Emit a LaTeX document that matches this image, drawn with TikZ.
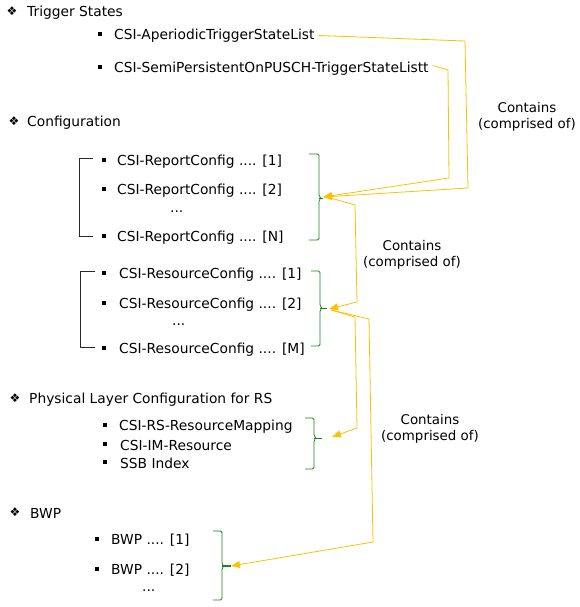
\documentclass[tikz,border=0pt]{standalone}
\usepackage{fontspec}
\setmainfont{DejaVu Sans}
\usetikzlibrary{arrows.meta,calc}
\definecolor{org}{RGB}{255,192,0}
\definecolor{grn}{RGB}{20,135,20}
\definecolor{blk}{RGB}{40,40,40}
\begin{document}
\begin{tikzpicture}[x=1pt,y=-1pt,
  font=\fontsize{13.8}{16}\selectfont,
  txt/.style={anchor=west,inner sep=0pt,yshift=-1.5pt},
  head/.style={anchor=west,inner sep=0pt,yshift=-1.5pt},
  dia/.style={inner sep=0pt,font=\fontsize{12}{12}\selectfont},
  bul/.style={fill=black,minimum size=4pt,inner sep=0pt},
  lbl/.style={align=center,inner sep=0pt,yshift=-1pt,font=\fontsize{13.4}{16}\selectfont},
  gbr/.style={draw=grn,line width=0.8pt,rounded corners=1.5pt},
  kbr/.style={draw=blk,line width=0.8pt},
  con/.style={draw=org,line width=0.8pt,-{Triangle[length=9pt,width=7pt]}},
  conp/.style={draw=org,line width=0.8pt}]
\useasboundingbox (0,0) rectangle (579,607);

% Trigger states
\node[dia] (d1) at (12,11) {❖};
\node[head] (h1) at (27,11) {Trigger States};
\node[bul] (b11) at (100,34) {};
\node[txt] (t11) at (114,34) {CSI-AperiodicTriggerStateList};
\node[bul] (b12) at (100,67) {};
\node[txt] (t12) at (114,67) {CSI-SemiPersistentOnPUSCH-TriggerStateListt};

% Configuration
\node[dia] (d2) at (14,121) {❖};
\node[head] (h2) at (27,121) {Configuration};
\node[bul] (b21) at (104,160) {};
\node[txt] (t21) at (117,160) {CSI-ReportConfig .... [1]};
\node[bul] (b22) at (104,189) {};
\node[txt] (t22) at (117,189) {CSI-ReportConfig .... [2]};
\node[txt] (t2d) at (170,210) {...};
\node[bul] (b23) at (104,236) {};
\node[txt] (t23) at (117,236) {CSI-ReportConfig .... [N]};

\node[bul] (b31) at (104,273) {};
\node[txt] (t31) at (119,273) {CSI-ResourceConfig .... [1]};
\node[bul] (b32) at (104,303) {};
\node[txt] (t32) at (119,303) {CSI-ResourceConfig .... [2]};
\node[txt] (t3d) at (172,323) {...};
\node[bul] (b33) at (104,348) {};
\node[txt] (t33) at (119,348) {CSI-ResourceConfig .... [M]};

% Physical layer
\node[dia] (d4) at (15,398) {❖};
\node[head] (h4) at (29,398) {Physical Layer Configuration for RS};
\node[bul] (b41) at (105,425) {};
\node[txt] (t41) at (119,425) {CSI-RS-ResourceMapping};
\node[bul] (b42) at (105,444) {};
\node[txt] (t42) at (120,444) {CSI-IM-Resource};
\node[bul] (b43) at (105,462) {};
\node[txt] (t43) at (120,462) {SSB Index};

% BWP
\node[dia] (d5) at (15,512) {❖};
\node[head] (h5) at (30,512) {BWP};
\node[bul] (b51) at (97,539) {};
\node[txt] (t51) at (111,539) {BWP .... [1]};
\node[bul] (b52) at (97,569) {};
\node[txt] (t52) at (111,569) {BWP .... [2]};
\node[txt] (t5d) at (142,589) {...};

% black brackets
\draw[kbr] (93,158) -- (79,158) -- (79,236) -- (93,236);
\draw[kbr] (95,271) -- (80,271) -- (80,347) -- (95,347);

% green braces
\draw[gbr] (309,154) -- (319,154) -- (319,196) -- (321,198) -- (319,200) -- (319,240) -- (309,240);
\draw[grn,line width=0.8pt] (319,198) -- (323,198);
\draw[gbr] (311,271) -- (320,271) -- (320,306) -- (322,308) -- (320,310) -- (320,346) -- (311,346);
\draw[grn,line width=0.8pt] (320,308) -- (327,308);
\draw[gbr] (305,418) -- (314,418) -- (314,436) -- (316,438) -- (314,440) -- (314,469) -- (305,469);
\draw[grn,line width=0.8pt] (314,438) -- (322,438);
\draw[gbr] (213,531) -- (222,531) -- (222,564) -- (224,566) -- (222,568) -- (222,600) -- (213,600);
\draw[grn,line width=2pt] (222,566) -- (231,566);

% connector anchors
\coordinate (rc) at (323,197);
\coordinate (rs) at (329,309);
\coordinate (phy) at (332,437);
\coordinate (bwp) at (231,566);
\coordinate (rcout) at (327,197);
\coordinate (rsout) at (331,310);

% connectors
\draw[con] ($(t11.east)+(4,0)$) -- (465,41) -- (468,188) -- (rc);
\draw[con] ($(t12.east)+(4,-3)$) -- (448,70) -- (449,178) -- (rc);
\draw[con] (rcout) -- (355,205) -- (357,302) -- (rs);
\draw[con] (rsout) -- (355,317) -- (357,428) -- (phy);
\draw[con] (rsout) -- (369,319) -- (373,542) -- (bwp);

% labels
\node[lbl] (l1) at (527,116) {Contains\\(comprised of)};
\node[lbl] (l2) at (412,254) {Contains\\(comprised of)};
\node[lbl] (l3) at (430,428) {Contains\\(comprised of)};
\end{tikzpicture}
\end{document}
